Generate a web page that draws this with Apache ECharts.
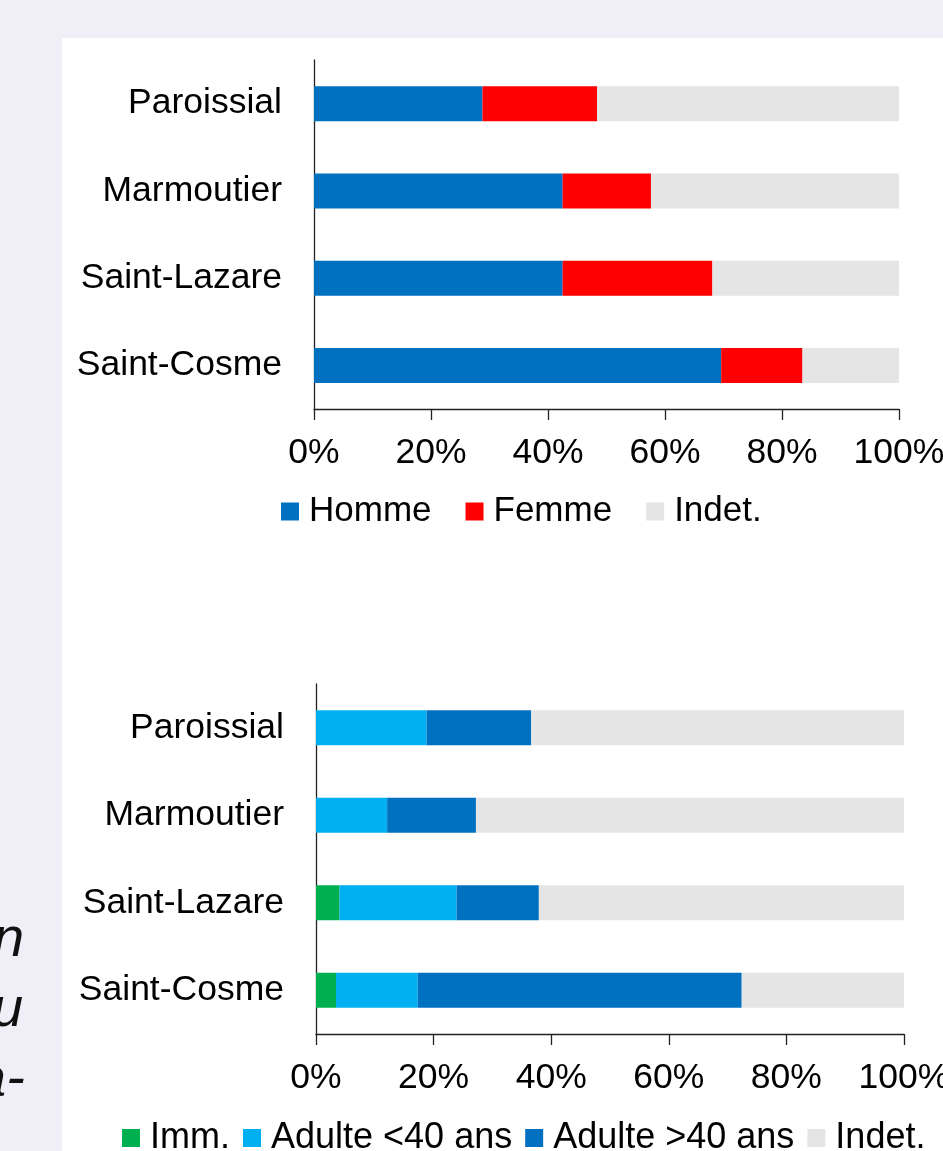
<!DOCTYPE html>
<html>
<head>
<meta charset="utf-8">
<script src="https://cdn.jsdelivr.net/npm/echarts@6/dist/echarts.min.js"></script>
<style>
html,body{margin:0;padding:0;background:#f0eff8;}
#c{width:943px;height:1151px;}
</style>
</head>
<body>
<div id="c"></div>
<script>
// Categories (top to bottom)
var categories = ['Paroissial', 'Marmoutier', 'Saint-Lazare', 'Saint-Cosme'];
var xTicks = [0, 20, 40, 60, 80, 100];

// Top chart: sex (%)
var homme = [28.8, 42.5, 42.5, 69.6];
var femme = [19.6, 15.1, 25.6, 13.9];
var indetSexe = [51.6, 42.4, 31.9, 16.5];

// Bottom chart: age (%)
var imm = [0, 0, 4.0, 3.4];
var adulteMoins40 = [18.8, 12.1, 19.9, 13.9];
var adultePlus40 = [17.8, 15.1, 14.0, 55.1];
var indetAge = [63.4, 72.8, 62.1, 27.6];

// Side text fragments (cut off at left edge)
var sideText = ['n', 'u', 'a-'];

var FONT = '"Liberation Sans", Arial, sans-serif';
var C_HOMME = '#0070c0', C_FEMME = '#ff0000', C_INDET = '#e5e5e5';
var C_IMM = '#00b050', C_A40 = '#00b0f0', C_B40 = '#0070c0';

var chart = echarts.init(document.getElementById('c'), null, {renderer: 'canvas'});

function xAxisCfg(gi) {
  return {
    type: 'value', gridIndex: gi, min: xTicks[0], max: xTicks[xTicks.length - 1], interval: 20,
    axisLine: {show: true, lineStyle: {color: '#222', width: 1.3}},
    axisTick: {show: true, length: 11, lineStyle: {color: '#222', width: 1.3}},
    splitLine: {show: false},
    axisLabel: {formatter: '{value}%', fontFamily: FONT, fontSize: 35.5, color: '#000', margin: 26}
  };
}
function yAxisCfg(gi) {
  return {
    type: 'category', gridIndex: gi, data: categories, inverse: true,
    axisLine: {show: true, lineStyle: {color: '#222', width: 1.3}},
    axisTick: {show: false},
    axisLabel: {fontFamily: FONT, fontSize: 35.5, color: '#000', margin: 32, padding: [4, 0, 0, 0]}
  };
}
function bar(name, data, color, gi, stack) {
  return {
    type: 'bar', name: name, data: data, stack: stack,
    xAxisIndex: gi, yAxisIndex: gi, barWidth: 35,
    itemStyle: {color: color},
    emphasis: {disabled: true},
    animation: false
  };
}

var graphics = [
  {type: 'rect', left: 62, top: 38, shape: {width: 881, height: 1113}, style: {fill: '#ffffff'}, z: -10}
];
var sideLeft = [-7, -8, -25];
sideText.forEach(function (t, i) {
  graphics.push({
    type: 'text', left: sideLeft[i], top: 912 + i * 70,
    style: {text: t, fontFamily: FONT, fontSize: 56, fontStyle: 'italic', fill: '#111'}
  });
});

chart.setOption({
  backgroundColor: '#f0eff8',
  animation: false,
  graphic: graphics,
  grid: [
    {left: 314, right: 44, top: 60, height: 349, outerBoundsMode: 'none', containLabel: false},
    {left: 316, right: 39, top: 684, height: 350, outerBoundsMode: 'none', containLabel: false}
  ],
  xAxis: [xAxisCfg(0), xAxisCfg(1)],
  yAxis: [yAxisCfg(0), yAxisCfg(1)],
  legend: [
    {
      data: ['Homme', 'Femme', 'Indet.'],
      left: 281, top: 494, padding: 0, itemWidth: 18, itemHeight: 18, itemGap: 34,
      icon: 'rect', selectedMode: false,
      textStyle: {fontFamily: FONT, fontSize: 35, color: '#000', padding: [0, 0, 0, 5]}
    },
    {
      data: ['Imm.', 'Adulte <40 ans', 'Adulte >40 ans', 'Indet.'],
      left: 122, top: 1120, padding: 0, itemWidth: 18, itemHeight: 18, itemGap: 13,
      icon: 'rect', selectedMode: false,
      textStyle: {fontFamily: FONT, fontSize: 36, color: '#000', padding: [0, 0, 0, 5]}
    }
  ],
  series: [
    bar('Homme', homme, C_HOMME, 0, 'sexe'),
    bar('Femme', femme, C_FEMME, 0, 'sexe'),
    bar('Indet.', indetSexe, C_INDET, 0, 'sexe'),
    bar('Imm.', imm, C_IMM, 1, 'age'),
    bar('Adulte <40 ans', adulteMoins40, C_A40, 1, 'age'),
    bar('Adulte >40 ans', adultePlus40, C_B40, 1, 'age'),
    bar('Indet.', indetAge, C_INDET, 1, 'age')
  ]
});
</script>
</body>
</html>
